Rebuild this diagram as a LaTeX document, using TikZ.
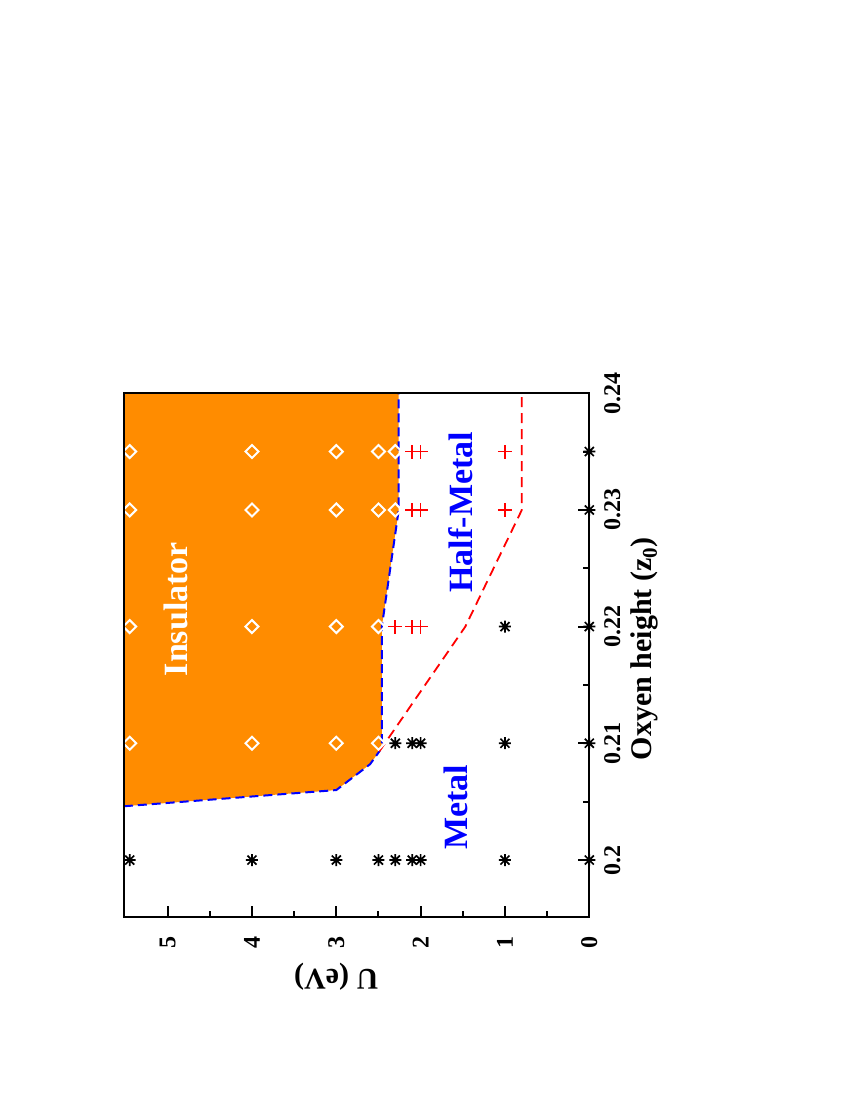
\documentclass[tikz,border=0pt]{standalone}
\usepackage{fontspec}
\setmainfont{Liberation Serif}
\usepackage{tikz}
\definecolor{insorange}{RGB}{255,140,0}

\begin{document}
\begin{tikzpicture}[
    frame/.style={line width=2pt, black},
    bound/.style={blue, line width=2pt, dash pattern=on 9pt off 5pt},
    hmline/.style={red, line width=1.8pt, dash pattern=on 10pt off 6pt},
    ticklab/.style={font=\fontsize{24}{24}\selectfont\bfseries, rotate=90},
    region/.style={font=\fontsize{34}{34}\selectfont\bfseries, rotate=90},
    axlab/.style={font=\fontsize{30}{30}\selectfont\bfseries, rotate=90},
    mstar/.style={black, line width=1.7pt},
    mdiam/.style={white, line width=2pt},
    mplus/.style={red, line width=1.7pt}]
  \useasboundingbox (0,0) rectangle (850pt,-1100pt);
  \begin{scope}[shift={(589.3pt,-3194pt)}, x={(-84.33pt,0)}, y={(0,11670pt)}]
    % insulator region
    \fill[insorange] (5.52,0.2046) -- (3.0,0.2060) -- (2.6,0.2082) -- (2.49,0.2093)
      -- (2.46,0.21) -- (2.46,0.22) -- (2.26,0.23) -- (2.26,0.24) -- (5.52,0.24) -- cycle;
    \draw[bound] (5.52,0.2046) -- (3.0,0.2060) -- (2.6,0.2082) -- (2.49,0.2093)
      -- (2.46,0.21) -- (2.46,0.22) -- (2.26,0.23) -- (2.26,0.24);
    \draw[hmline] (2.49,0.2093) -- (1.47,0.22) -- (0.8,0.23) -- (0.8,0.24);
    % data points
    \foreach \u/\z in {5.45/0.2,4/0.2,3/0.2,2.5/0.2,2.3/0.2,2.1/0.2,2.0/0.2,1/0.2,0/0.2,
        2.3/0.21,2.1/0.21,2.0/0.21,1/0.21,0/0.21,1/0.22,0/0.22,0/0.23,0/0.235}{
      \coordinate (p) at (\u,\z);
      \draw[mstar] ([shift={(-6pt,0)}]p) -- ([shift={(6pt,0)}]p)
        ([shift={(0,-6pt)}]p) -- ([shift={(0,6pt)}]p)
        ([shift={(-4.5pt,-4.5pt)}]p) -- ([shift={(4.5pt,4.5pt)}]p)
        ([shift={(-4.5pt,4.5pt)}]p) -- ([shift={(4.5pt,-4.5pt)}]p);
    }
    \foreach \u/\z in {5.45/0.21,4/0.21,3/0.21,2.5/0.21,5.45/0.22,4/0.22,3/0.22,2.5/0.22,
        5.45/0.23,4/0.23,3/0.23,2.5/0.23,2.3/0.23,5.45/0.235,4/0.235,3/0.235,2.5/0.235,2.3/0.235}{
      \coordinate (p) at (\u,\z);
      \draw[mdiam] ([shift={(-6.5pt,0)}]p) -- ([shift={(0,6.5pt)}]p) -- ([shift={(6.5pt,0)}]p)
        -- ([shift={(0,-6.5pt)}]p) -- cycle;
    }
    \foreach \u/\z in {2.3/0.22,2.1/0.22,2.0/0.22,2.1/0.23,2.0/0.23,1/0.23,2.1/0.235,2.0/0.235,1/0.235}{
      \coordinate (p) at (\u,\z);
      \draw[mplus] ([shift={(-7pt,0)}]p) -- ([shift={(7pt,0)}]p)
        ([shift={(0,-7pt)}]p) -- ([shift={(0,7pt)}]p);
    }
    % frame and ticks
    \draw[frame] (5.52,0.1951) rectangle (0,0.24);
    \foreach \u in {1,...,5}{
      \draw[frame] (\u,0.1951) -- ++(0,11pt);
      \node[ticklab] at ([yshift=-25pt]\u,0.1951) {\u};
    }
    \node[ticklab] at ([yshift=-25pt]0,0.1951) {0};
    \foreach \u in {0.5,1.5,2.5,3.5,4.5}
      \draw[frame] (\u,0.1951) -- ++(0,6pt);
    \foreach \z in {0.2,0.21,0.22,0.23}{
      \draw[frame] (0,\z) -- ++(-11pt,0);
      \node[ticklab] at ([xshift=23pt]0,\z) {\z};
    }
    \node[ticklab] at ([xshift=23pt]0,0.24) {0.24};
    \foreach \z in {0.205,0.215,0.225,0.235}
      \draw[frame] (0,\z) -- ++(-6pt,0);
    % labels
    \node[region, white] (ins) at (4.9,0.2215) {Insulator};
    \node[region, blue] (hm) at (1.53,0.2298) {Half-Metal};
    \node[region, blue] (met) at (1.58,0.2045) {Metal};
    \node[axlab] (zl) at ([xshift=55pt]0,0.2181) {Oxyen height (z$_{\mathbf 0}$)};
    \node[axlab, rotate=90] (ul) at ([yshift=-60pt]3.0,0.1951) {U (eV)};
  \end{scope}
\end{tikzpicture}
\end{document}
